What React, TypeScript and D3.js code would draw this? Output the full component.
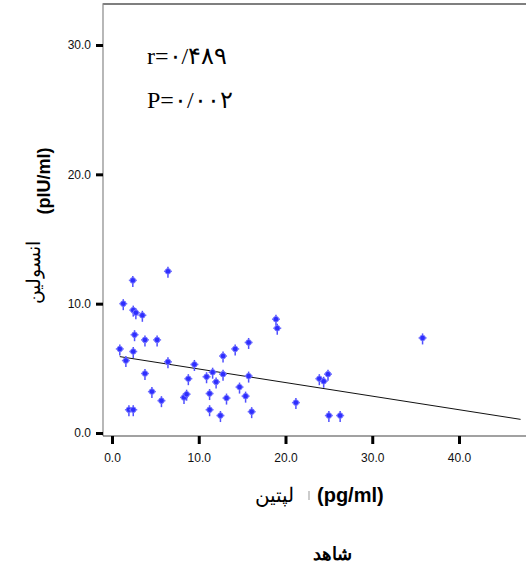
import { useRef, useEffect } from "react";
import * as d3 from "d3";

// leptin (pg/ml) and insulin (pIU/ml)
const leptin = [
  0.9, 1.3, 1.6, 2.4, 2.45, 2.75, 3.5, 6.45, 2.6, 3.8, 5.2, 2.45, 6.45, 3.8, 4.6, 5.7,
  1.95, 2.45, 9.5, 8.8, 8.3, 8.6, 10.9, 11.6, 12.0, 11.25, 11.25, 12.5, 12.8, 12.8, 13.2,
  14.2, 15.75, 15.75, 14.7, 15.4, 16.1, 18.9, 19.05, 21.2, 23.9, 24.4, 24.9, 25.0, 26.3, 35.8,
];
const insulin = [
  6.5, 10.0, 5.6, 11.8, 9.5, 9.3, 9.1, 12.5, 7.6, 7.2, 7.2, 6.3, 5.5, 4.6, 3.2, 2.5,
  1.8, 1.8, 5.3, 4.2, 2.75, 3.0, 4.35, 4.7, 3.95, 3.05, 1.8, 1.35, 5.95, 4.55, 2.7,
  6.5, 7.0, 4.4, 3.55, 2.85, 1.65, 8.8, 8.1, 2.35, 4.2, 4.0, 4.55, 1.35, 1.35, 7.35,
];

// fitted line
const fitIntercept = 6.0;
const fitSlope = -0.105;
const fitRange = [0.9, 47.1];

const xTicks = [0, 10, 20, 30, 40];
const yTicks = [0, 10, 20, 30];

const rText = "r=۰/۴۸۹";
const pText = "P=۰/۰۰۲";

const W = 526;
const H = 573;

export default function App() {
  const ref = useRef<SVGSVGElement | null>(null);

  useEffect(() => {
    if (!ref.current) return;
    const svg = d3.select(ref.current);
    svg.selectAll("*").remove();

    const x = d3.scaleLinear().domain([0, 40]).range([112, 459]);
    const y = d3.scaleLinear().domain([0, 30]).range([433, 45]);

    const left = 103;
    const top = 4;
    const bottom = 436;

    // frame
    svg.append("line")
      .attr("x1", left).attr("x2", W).attr("y1", top).attr("y2", top)
      .attr("stroke", "#555").attr("stroke-width", 1.5);
    svg.append("line")
      .attr("x1", left).attr("x2", left).attr("y1", top - 0.75).attr("y2", bottom)
      .attr("stroke", "#888").attr("stroke-width", 1.2);
    svg.append("line")
      .attr("x1", left).attr("x2", W).attr("y1", bottom).attr("y2", bottom)
      .attr("stroke", "#444").attr("stroke-width", 1.2);

    const ya = svg.append("g")
      .attr("transform", `translate(${left},0)`)
      .call(d3.axisLeft(y).tickValues(yTicks).tickFormat(d3.format(".1f")).tickSize(7).tickPadding(5));
    ya.select(".domain").remove();
    ya.selectAll(".tick line").attr("stroke", "#000").attr("stroke-width", 3);
    ya.selectAll(".tick text")
      .attr("fill", "#111")
      .style("font-family", "Arial, 'Liberation Sans', sans-serif")
      .style("font-size", "12px");

    const xa = svg.append("g")
      .attr("transform", `translate(0,${bottom})`)
      .call(d3.axisBottom(x).tickValues(xTicks).tickFormat(d3.format(".1f")).tickSize(8).tickPadding(9));
    xa.select(".domain").remove();
    xa.selectAll(".tick line").attr("stroke", "#000").attr("stroke-width", 3);
    xa.selectAll(".tick text")
      .attr("fill", "#111")
      .style("font-family", "Arial, 'Liberation Sans', sans-serif")
      .style("font-size", "12px");

    // fit line
    const line = d3.line<number>()
      .x((d) => x(d))
      .y((d) => y(fitIntercept + fitSlope * d));
    svg.append("path")
      .attr("d", line(fitRange) ?? "")
      .attr("fill", "none")
      .attr("stroke", "#111")
      .attr("stroke-width", 1);

    // markers
    const pts = leptin.map((v, i) => [v, insulin[i]] as [number, number]);
    const m = svg.append("g").selectAll("g").data(pts).join("g")
      .attr("transform", (d) => `translate(${x(d[0])},${y(d[1])})`);
    m.append("path")
      .attr("d", "M0,-4.5V6.5")
      .attr("stroke", "#5050ff")
      .attr("stroke-width", 1.5);
    m.append("path")
      .attr("d", "M-4,0H4")
      .attr("stroke", "#7070ff")
      .attr("stroke-width", 1.5);
    m.append("circle")
      .attr("r", 2.8)
      .attr("fill", "#2e2eff")
      .attr("stroke", "#7a7aff")
      .attr("stroke-width", 0.9);

    // annotations
    const serif = "'Liberation Serif', 'Times New Roman', 'DejaVu Serif', serif";
    svg.append("text").attr("x", 147).attr("y", 64).text(rText)
      .style("font-family", serif).style("font-size", "24px").attr("fill", "#000");
    svg.append("text").attr("x", 147).attr("y", 108).text(pText)
      .style("font-family", serif).style("font-size", "24px").attr("fill", "#000");

    const sansBold = "Arial, 'Liberation Sans', sans-serif";

    // y label
    const yl = svg.append("g").attr("transform", "rotate(-90)");
    yl.append("text")
      .attr("x", -181).attr("y", 50)
      .attr("text-anchor", "middle")
      .style("font-family", sansBold).style("font-weight", "bold").style("font-size", "18px")
      .text("(pIU/ml)");
    yl.append("text")
      .attr("x", -272).attr("y", 40)
      .attr("text-anchor", "middle")
      .attr("direction", "rtl")
      .style("font-family", serif).style("font-size", "19px")
      .text("انسولین");

    // x label
    svg.append("text")
      .attr("x", 274).attr("y", 502)
      .attr("text-anchor", "middle")
      .attr("direction", "rtl")
      .style("font-family", serif).style("font-size", "20px")
      .text("لپتین");
    svg.append("line")
      .attr("x1", 309).attr("x2", 309).attr("y1", 491).attr("y2", 500)
      .attr("stroke", "#bbb").attr("stroke-width", 1.5);
    svg.append("text")
      .attr("x", 317).attr("y", 502)
      .style("font-family", sansBold).style("font-weight", "bold").style("font-size", "20px")
      .text("(pg/ml)");

    svg.append("text")
      .attr("x", 332).attr("y", 560)
      .attr("text-anchor", "middle")
      .attr("direction", "rtl")
      .style("font-family", sansBold).style("font-weight", "bold").style("font-size", "18px")
      .text("شاهد");
  }, []);

  return (
    <svg
      ref={ref}
      width={W}
      height={H}
      style={{ position: "absolute", left: 0, top: 0, background: "#fff" }}
    />
  );
}
